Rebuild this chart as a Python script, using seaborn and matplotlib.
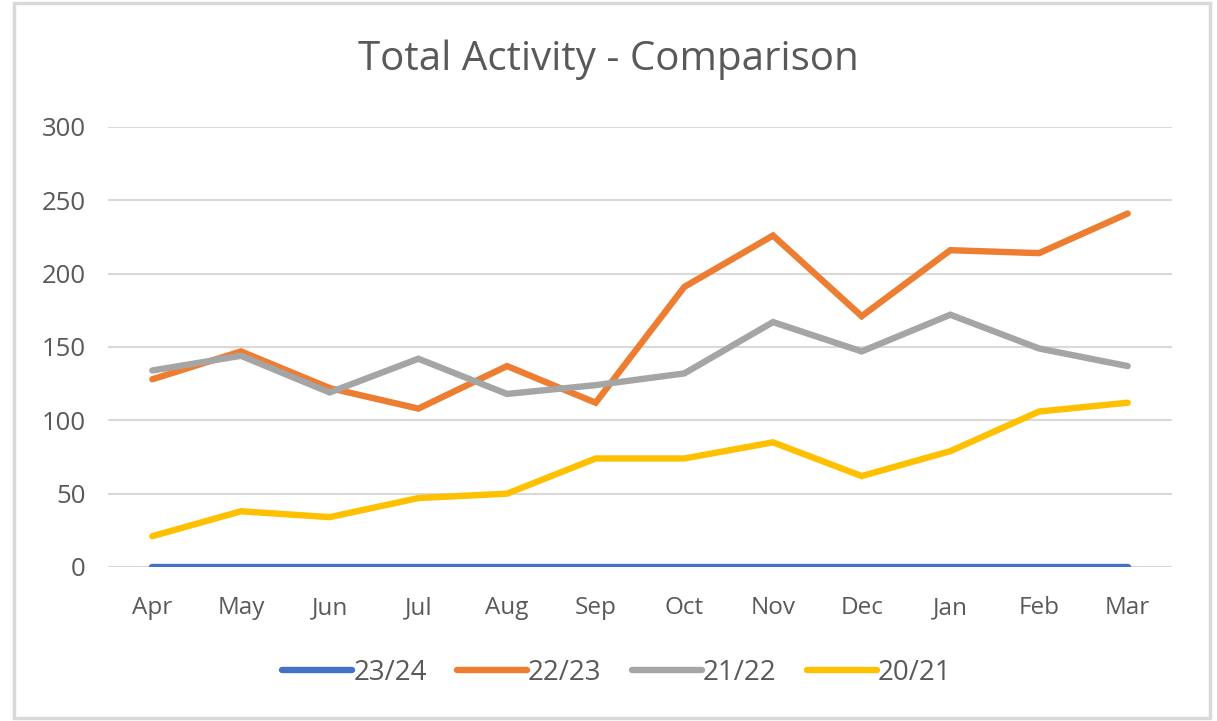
import matplotlib
matplotlib.use("Agg")
import matplotlib.pyplot as plt
import seaborn as sns
import pandas as pd
from matplotlib.patches import Rectangle
from matplotlib.lines import Line2D

months = ["Apr", "May", "Jun", "Jul", "Aug", "Sep", "Oct", "Nov", "Dec", "Jan", "Feb", "Mar"]
s_23_24 = [0, 0, 0, 0, 0, 0, 0, 0, 0, 0, 0, 0]
s_22_23 = [128, 147, 122, 108, 137, 112, 191, 226, 171, 216, 214, 241]
s_21_22 = [134, 144, 119, 142, 118, 124, 132, 167, 147, 172, 149, 137]
s_20_21 = [21, 38, 34, 47, 50, 74, 74, 85, 62, 79, 106, 112]
series_names = ["23/24", "22/23", "21/22", "20/21"]
colors = ["#4472C4", "#ED7D31", "#A5A5A5", "#FFC000"]
title = "Total Activity - Comparison"

rows = []
for name, vals in zip(series_names, [s_23_24, s_22_23, s_21_22, s_20_21]):
    for i, (m, v) in enumerate(zip(months, vals)):
        rows.append({"month": m, "idx": i, "series": name, "value": v})
df = pd.DataFrame(rows)

sns.set_theme(style="white")
plt.rcParams['font.family'] = ['Open Sans', 'DejaVu Sans']

fig = plt.figure(figsize=(12.17, 7.21), dpi=100)
ax = fig.add_axes([108/1217, 1 - 567/721, (1172 - 108)/1217, (567 - 127)/721])

lw = 4.6
sns.lineplot(data=df, x="idx", y="value", hue="series", hue_order=series_names,
             palette=colors, linewidth=lw, ax=ax, legend=False,
             solid_capstyle="round", solid_joinstyle="miter", sort=False, zorder=3)

ax.set_xlim(-0.5, 11.5)
ax.set_ylim(0, 300)
ax.set_yticks(range(0, 301, 50))
ax.set_xticks(range(len(months)))
ax.set_xticklabels(months)
ax.grid(axis="y", color="#D9D9D9", linewidth=1.5, zorder=0)
ax.grid(axis="x", visible=False)
for s in ax.spines.values():
    s.set_visible(False)
ax.tick_params(axis="both", length=0, labelcolor="#595959")
ax.tick_params(axis="y", pad=16, labelsize=18.5)
ax.tick_params(axis="x", pad=21, labelsize=17.5)
ax.set_xlabel("")
ax.set_ylabel("")

fig.text(0.5, 1 - 60/721, title, ha="center", va="center", fontsize=29, color="#595959")

handles = [Line2D([0], [0], color=c, linewidth=lw, solid_capstyle="round") for c in colors]
fig.legend(handles, series_names, loc="center", bbox_to_anchor=(0.507, 1 - 673/721), ncol=4,
           frameon=False, fontsize=20, labelcolor="#595959", handlelength=2.5,
           handletextpad=0.05, columnspacing=1.1)

fig.patches.append(Rectangle((14/1217, 1 - 718/721), (1210 - 14)/1217, (718 - 3)/721,
                             transform=fig.transFigure, fill=False, edgecolor="#D9D9D9",
                             linewidth=2.5))

fig.savefig("out.png", dpi=100, facecolor="white")
